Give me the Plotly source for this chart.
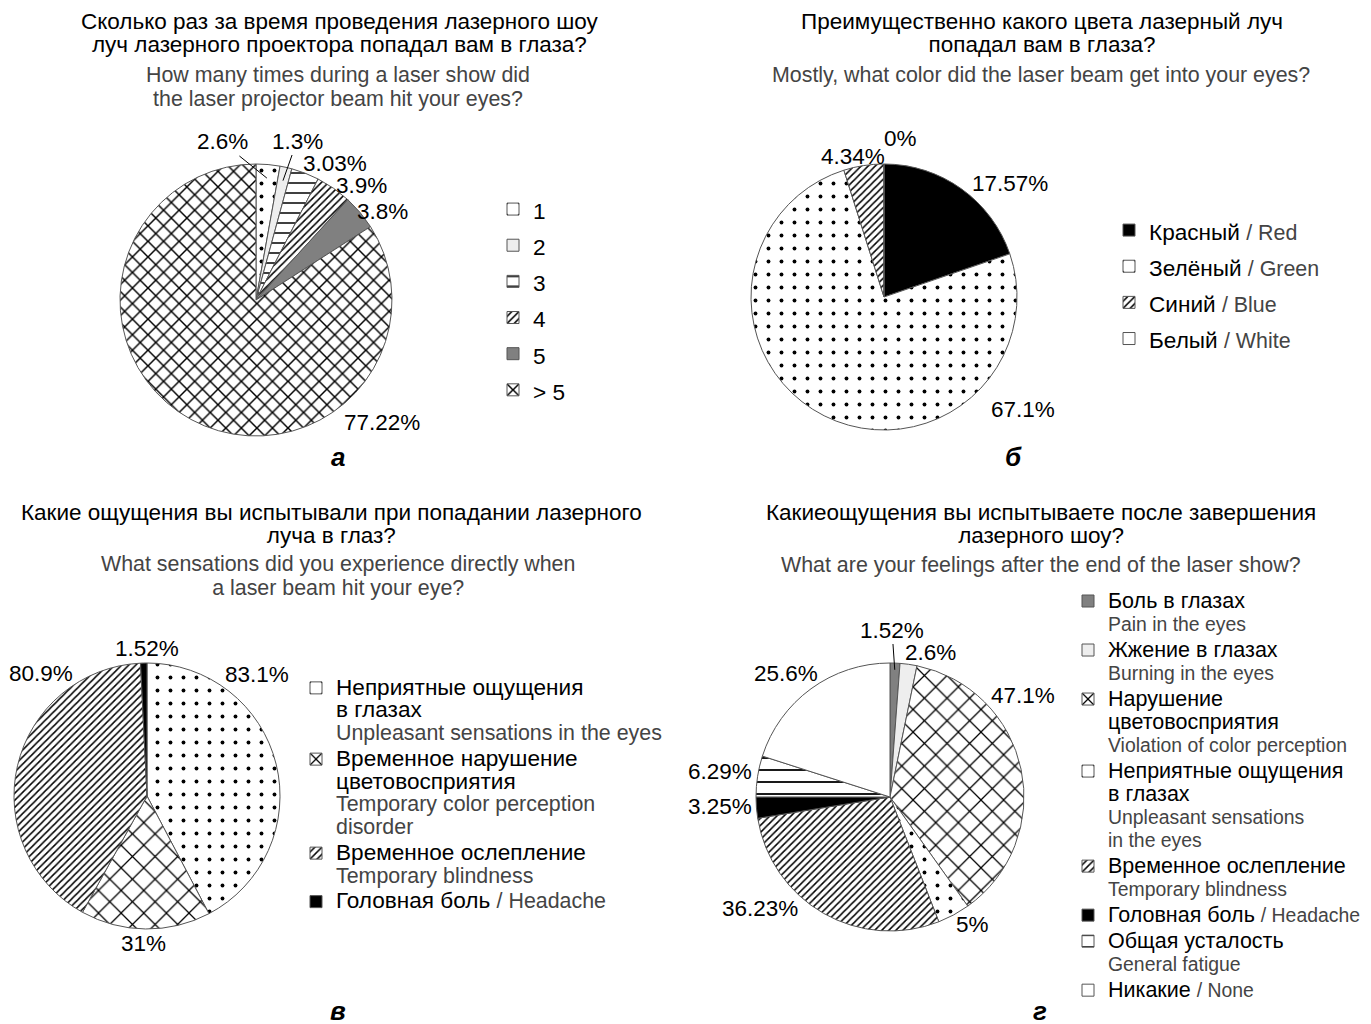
import math
import plotly.graph_objects as go

W, H = 1371, 1024
OFF = 8  # page body margin in the browser
FONT = "Liberation Sans, Arial, sans-serif"
EN_COLOR = "#444444"

# ---------------- data ----------------
# а
a_labels = ["1", "2", "3", "4", "5", "> 5"]
a_values = [2.6, 1.3, 3.03, 3.9, 3.8, 77.22]
# б
b_ru = ["Красный", "Зелёный", "Синий", "Белый"]
b_en = ["Red", "Green", "Blue", "White"]
b_values = [17.57, 67.1, 4.34, 0]
# в
c_ru = ["Неприятные ощущения<br>в глазах", "Временное нарушение<br>цветовосприятия",
        "Временное ослепление", "Головная боль"]
c_en = ["Unpleasant sensations in the eyes", "Temporary color perception<br>disorder",
        "Temporary blindness", "Headache"]
c_inline = [False, False, False, True]
c_values = [83.1, 31, 80.9, 1.52]
# г
d_ru = ["Боль в глазах", "Жжение в глазах", "Нарушение<br>цветовосприятия",
        "Неприятные ощущения<br>в глазах", "Временное ослепление", "Головная боль",
        "Общая усталость", "Никакие"]
d_en = ["Pain in the eyes", "Burning in the eyes", "Violation of color perception",
        "Unpleasant sensations<br>in the eyes", "Temporary blindness", "Headache",
        "General fatigue", "None"]
d_inline = [False, False, False, False, False, True, False, True]
d_values = [1.52, 2.6, 47.1, 5, 36.23, 3.25, 6.29, 25.6]

titles_ru = [
    "Сколько раз за время проведения лазерного шоу<br>луч лазерного проектора попадал вам в глаза?",
    "Преимущественно какого цвета лазерный луч<br>попадал вам в глаза?",
    "Какие ощущения вы испытывали при попадании лазерного<br>луча в глаз?",
    "Какиеощущения вы испытываете после завершения<br>лазерного шоу?",
]
titles_en = [
    "How many times during a laser show did<br>the laser projector beam hit your eyes?",
    "Mostly, what color did the laser beam get into your eyes?",
    "What sensations did you experience directly when<br>a laser beam hit your eye?",
    "What are your feelings after the end of the laser show?",
]
panel_letters = ["а", "б", "в", "г"]


def px(x):
    return (x - OFF) / W


def py(y):
    return 1 - (y - OFF) / H


def pct(vals):
    return [f"{v:g}%" for v in vals]


def lab(ru, en, inline, ru_size=22.6, en_size=21.4, variant=""):
    ru_style = f"font-size:{ru_size}px{variant}"
    en_style = f"font-size:{en_size}px;color:{EN_COLOR}{variant}"
    if en is None:
        return f"<span style='{ru_style}'>{ru}</span>"
    if inline:
        return f"<span style='{ru_style}'>{ru} </span><span style='{en_style}'>/ {en}</span>"
    return f"<span style='{ru_style}'>{ru}</span><br><span style='{en_style}'>{en}</span>"


def dom(cx, cy, r):
    return dict(x=[px(cx - r), px(cx + r)], y=[py(cy + r), py(cy - r)])


BORDER = dict(color="#555555", width=1)

# pie geometry (screen px): centre x, centre y, radius
geo = [(256, 300, 136), (884, 297, 133), (147, 796, 133), (890, 797, 134)]

fig = go.Figure()


def add_pie(labels, values, colors, shapes, sizes, solid, g, legend):
    cx, cy, r = g
    fig.add_trace(go.Pie(
        labels=labels, values=values, textinfo="none",
        sort=False, direction="clockwise", rotation=0,
        domain=dom(cx, cy, r), legend=legend,
        marker=dict(colors=colors, line=BORDER,
                    pattern=dict(shape=shapes, fillmode="replace", fgcolor="black", bgcolor="white",
                                 size=sizes, solidity=solid)),
        automargin=False, showlegend=True,
    ))


add_pie([lab(l, None, False) for l in a_labels], a_values,
        ["white", "#eeeeee", "white", "white", "#808080", "white"],
        [".", "", "-", "/", "", "x"], [13, 10, 10, 5, 10, 11], [0.07, 0.3, 0.15, 0.3, 0.3, 0.25],
        geo[0], "legend")
add_pie([lab(r, e, True) for r, e in zip(b_ru, b_en)], b_values,
        ["black", "white", "white", "white"],
        ["", ".", "/", ""], [10, 13, 5, 10], [0.3, 0.07, 0.3, 0.3],
        geo[1], "legend2")
add_pie([lab(r, e, i) for r, e, i in zip(c_ru, c_en, c_inline)], c_values,
        ["white", "white", "white", "black"],
        [".", "x", "/", ""], [13, 16, 5, 10], [0.07, 0.15, 0.3, 0.3],
        geo[2], "legend3")
add_pie([lab(r, e, i, ru_size=21.5, en_size=19.4, variant=";") for r, e, i in zip(d_ru, d_en, d_inline)],
        d_values,
        ["#808080", "#eeeeee", "white", "white", "white", "black", "white", "white"],
        ["", "", "x", ".", "/", "", "-", ""], [10, 10, 16, 13, 5, 10, 12, 10],
        [0.3, 0.3, 0.15, 0.07, 0.3, 0.3, 0.15, 0.3],
        geo[3], "legend4")

leg_common = dict(xanchor="left", yanchor="top", bgcolor="rgba(0,0,0,0)", borderwidth=0,
                  valign="top", traceorder="normal")
fig.update_layout(
    legend=dict(x=px(493), y=py(186), font=dict(size=25.5, family=FONT, color="black"), **leg_common),
    legend2=dict(x=px(1109), y=py(207), font=dict(size=25.5, family=FONT, color="black"), **leg_common),
    legend3=dict(x=px(296), y=py(670), font=dict(size=17.5, family=FONT, color="black"), **leg_common),
    legend4=dict(x=px(1068), y=py(583), font=dict(size=17.7, family=FONT, color="black"), **leg_common),
)

annotations = []

# percentage labels (text centres, screen px)
label_pos = [
    [(222, 142), (297, 141), (335, 163), (361, 185), (382, 211), (382, 422)],
    [(1010, 183), (1023, 409), (853, 156), (900, 138)],
    [(257, 674), (143, 943), (41, 673), (147, 648)],
    [(892, 630), (930, 652), (1023, 695), (972, 924), (760, 908), (720, 806), (720, 771), (786, 673)],
]
# leader lines: fraction of radius where the line touches the slice (None = no line)
leaders = [
    [0.9, 0.9, None, None, None, None],
    [None, None, None, None],
    [None, None, None, None],
    [0.95, None, None, None, None, None, None, None],
]
all_values = [a_values, b_values, c_values, d_values]

for vals, poss, lead, (cx, cy, r) in zip(all_values, label_pos, leaders, geo):
    total = sum(vals)
    cum = 0.0
    texts = pct(vals)
    for v, t, (lx, ly), fr in zip(vals, texts, poss, lead):
        mid = 2 * math.pi * (cum + v / 2) / total
        cum += v
        if fr is None:
            annotations.append(dict(text=t, x=px(lx), y=py(ly), xref="paper", yref="paper",
                                    showarrow=False, xanchor="center", yanchor="middle",
                                    font=dict(size=22.5, family=FONT, color="black")))
        else:
            tx = cx + fr * r * math.sin(mid)
            ty = cy - fr * r * math.cos(mid)
            annotations.append(dict(text=t, x=px(tx), y=py(ty), xref="paper", yref="paper",
                                    showarrow=True, arrowhead=0, arrowwidth=1, arrowcolor="black",
                                    standoff=0, startstandoff=0, ax=lx - tx, ay=ly - ty,
                                    font=dict(size=22.5, family=FONT, color="black")))

# title positions (centres, screen px)
t_ru_pos = [(340, 33), (1042, 33), (331, 524), (1041, 524)]
t_en_pos = [(338, 87), (1041, 75), (338, 576), (1041, 565)]
letter_pos = [(338, 457), (1013, 457), (338, 1011), (1040, 1011)]

for txt, (x, y) in zip(titles_ru, t_ru_pos):
    annotations.append(dict(text=f"<span style='font-size:22.5px'>{txt}</span>", x=px(x), y=py(y),
                            xref="paper", yref="paper", showarrow=False, xanchor="center",
                            yanchor="middle", font=dict(size=17.5, family=FONT, color="black")))
for txt, (x, y) in zip(titles_en, t_en_pos):
    annotations.append(dict(text=f"<span style='font-size:21.4px'>{txt}</span>", x=px(x), y=py(y),
                            xref="paper", yref="paper", showarrow=False, xanchor="center",
                            yanchor="middle", font=dict(size=18.5, family=FONT, color=EN_COLOR)))
for txt, (x, y) in zip(panel_letters, letter_pos):
    annotations.append(dict(text=f"<b><i>{txt}</i></b>", x=px(x), y=py(y),
                            xref="paper", yref="paper", showarrow=False, xanchor="center",
                            yanchor="middle", font=dict(size=26, family=FONT, color="black")))

fig.update_layout(
    width=W, height=H, margin=dict(l=0, r=0, t=0, b=0),
    paper_bgcolor="white", plot_bgcolor="white",
    font=dict(family=FONT, color="black"),
    annotations=annotations, showlegend=True,
)

fig.write_html("out.html")
